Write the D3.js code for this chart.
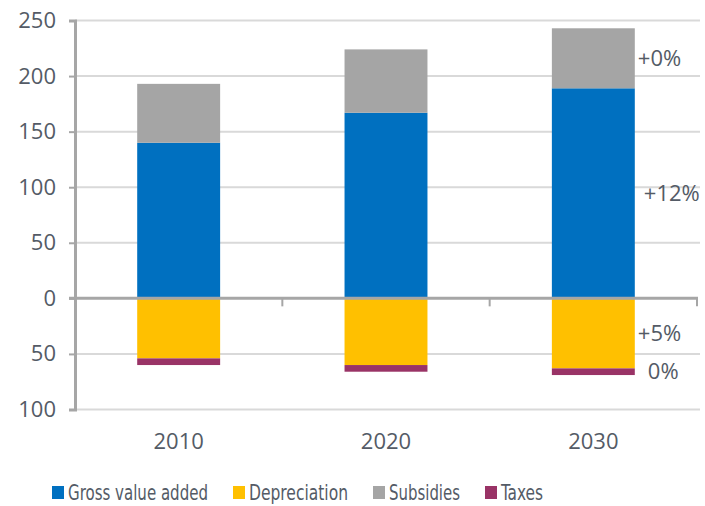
<!DOCTYPE html>
<html><head><meta charset="utf-8">
<script src="https://cdn.jsdelivr.net/npm/d3@7"></script>
<style>body{margin:0;background:#fff}svg{display:block}</style>
</head><body>
<svg id="c" width="705" height="506"></svg>
<script>
const categories = ["2010", "2020", "2030"];
const grossValueAdded = [140, 167, 189];
const subsidies = [53, 57, 54];
const depreciation = [-54, -60, -63];
const taxes = [-6, -6, -6];
const changeLabels = ["+0%", "+12%", "+5%", "0%"]; // subsidies, GVA, depreciation, taxes for 2030
const yTicks = [-100, -50, 0, 50, 100, 150, 200, 250];
const seriesNames = ["Gross value added", "Depreciation", "Subsidies", "Taxes"];
const colors = {"Gross value added":"#0070C0","Depreciation":"#FFC000","Subsidies":"#A5A5A5","Taxes":"#993366"};

(function(){
const svg = d3.select("#c");
const mLeft = 75, mRight = 697, mTop = 20.5, mBottom = 409.5;
const x = d3.scaleBand().domain(categories).range([mLeft, mRight]).padding(0);
const y = d3.scaleLinear().domain([-100, 250]).range([mBottom, mTop]);
const barW = x.bandwidth() * 0.4;
const textCol = "#545b66";

// gridlines
svg.append("g").selectAll("line").data(yTicks.filter(d => d !== 0)).join("line")
  .attr("x1", mLeft).attr("x2", 700).attr("y1", d => y(d)).attr("y2", d => y(d))
  .attr("stroke", "#D9D9D9").attr("stroke-width", 2);

// y axis
const yAxis = d3.axisLeft(y).tickValues(yTicks).tickSize(6).tickPadding(13)
  .tickFormat(d => String(Math.abs(d)));
const ya = svg.append("g").attr("transform", `translate(${mLeft},0)`).call(yAxis);
ya.select(".domain").attr("stroke", "#A6A6A6").attr("stroke-width", 3);
ya.selectAll(".tick line").attr("stroke", "#A6A6A6").attr("stroke-width", 2);
ya.selectAll(".tick text").attr("font-family", "Open Sans").attr("font-size", 22).attr("fill", textCol);

// stacked data
const stacks = categories.map((c, i) => ([
  {cat:c, key:"Gross value added", y0:0, y1:grossValueAdded[i]},
  {cat:c, key:"Subsidies", y0:grossValueAdded[i], y1:grossValueAdded[i]+subsidies[i]},
  {cat:c, key:"Depreciation", y0:0, y1:depreciation[i]},
  {cat:c, key:"Taxes", y0:depreciation[i], y1:depreciation[i]+taxes[i]}
])).flat();

svg.append("g").selectAll("rect").data(stacks).join("rect")
  .attr("x", d => x(d.cat) + (x.bandwidth() - barW) / 2)
  .attr("width", barW)
  .attr("y", d => y(Math.max(d.y0, d.y1)))
  .attr("height", d => Math.abs(y(d.y0) - y(d.y1)))
  .attr("fill", d => colors[d.key]);

// zero line
svg.append("line").attr("x1", mLeft - 6).attr("x2", mRight + 1).attr("y1", y(0)).attr("y2", y(0))
  .attr("stroke", "#A6A6A6").attr("stroke-width", 3);
svg.append("g").selectAll("line").data(categories).join("line")
  .attr("x1", d => x(d) + x.bandwidth()).attr("x2", d => x(d) + x.bandwidth())
  .attr("y1", y(0)).attr("y2", y(0) + 8)
  .attr("stroke", "#A6A6A6").attr("stroke-width", 2);

// category labels
svg.append("g").selectAll("text").data(categories).join("text")
  .attr("x", d => x(d) + x.bandwidth() / 2).attr("y", 449)
  .attr("text-anchor", "middle").attr("font-family", "Open Sans").attr("font-size", 22)
  .attr("fill", textCol).text(d => d);

// change labels on last bar
const last = categories[categories.length - 1];
const lastSegs = ["Subsidies", "Gross value added", "Depreciation", "Taxes"]
  .map(k => stacks.find(s => s.cat === last && s.key === k));
svg.append("g").selectAll("text").data(lastSegs).join("text")
  .attr("x", (d, i) => x(last) + (x.bandwidth() + barW) / 2 + (i === 1 ? 9 : i === 3 ? 13 : 3))
  .attr("y", d => y((d.y0 + d.y1) / 2))
  .attr("dy", "0.35em")
  .attr("font-family", "Open Sans").attr("font-size", 22).attr("fill", textCol)
  .text((d, i) => changeLabels[i]);

// legend
const legendX = [52, 233, 373, 485];
const legendW = [140, 99, 71, 42];
const lg = svg.append("g").selectAll("g").data(seriesNames).join("g")
  .attr("transform", (d, i) => `translate(${legendX[i]},486)`);
lg.append("rect").attr("width", 12).attr("height", 13).attr("fill", d => colors[d]);
lg.append("text").attr("x", 16).attr("y", 6.5).attr("dy", "0.36em")
  .attr("font-family", "'DejaVu Sans Condensed', 'Open Sans', sans-serif").attr("font-size", 22)
  .attr("textLength", (d, i) => legendW[i]).attr("lengthAdjust", "spacingAndGlyphs")
  .attr("fill", textCol)
  .text(d => d);
})();
</script>
</body></html>
